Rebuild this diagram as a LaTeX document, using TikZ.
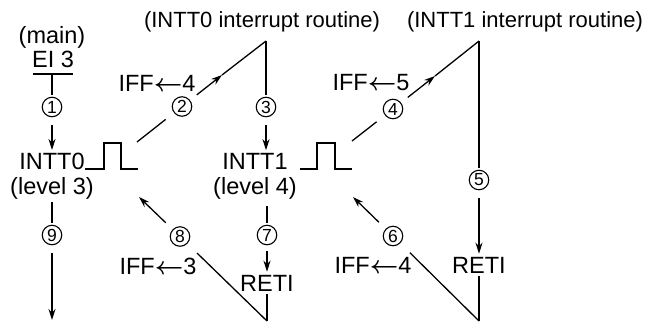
\documentclass[tikz,border=0pt]{standalone}
\usepackage{fontspec}
\setmainfont{Liberation Sans}
\usetikzlibrary{arrows.meta,calc}
\newcommand{\iffset}{{\boldmath$\leftarrow$}}

\begin{document}
\begin{tikzpicture}[
  x=1pt, y=-1pt,
  every node/.style={font=\fontsize{23.5}{26}\selectfont, inner sep=3pt},
  title/.style={font=\fontsize{22}{24}\selectfont},
  num/.style={circle, draw, line width=1.1pt, minimum size=19.5pt, inner sep=0pt, outer sep=2pt, font=\fontsize{17.5}{17.5}\selectfont},
  wire/.style={line width=1.3pt},
  arrow/.style={-{Stealth[length=11pt,width=7pt]}, line width=1.3pt}
]
\useasboundingbox (0,0) rectangle (650,322);

% titles
\node[title] (isr0) at (262,22) {(INTT0 interrupt routine)};
\node[title] (isr1) at (525,22) {(INTT1 interrupt routine)};

% main program
\node (main) at (52,37) {(main)};
\node (ei) at (53,59) {EI 3};
\coordinate (eiL) at (33,74);
\coordinate (eiR) at (73,74);
\coordinate (ei0) at (52,74);

\node (intt0) at (52,161.5) {INTT0};
\node (lv3) at (52,188) {(level 3)};
\node (intt1) at (255,161.5) {INTT1};
\node (lv4) at (255,188) {(level 4)};

\node (iff4a) at (157,83) {IFF\iffset4};
\node (iff5) at (371,83) {IFF\iffset5};
\node (iff3) at (158,266) {IFF\iffset3};
\node (iff4b) at (373,265) {IFF\iffset4};

\node (retiA) at (267,283) {RETI};
\node (retiB) at (479,265) {RETI};

% step numbers
\node[num] (n1) at (52,107) {1};
\node[num] (n2) at (182,106.5) {2};
\node[num] (n3) at (266,107) {3};
\node[num] (n4) at (393,109) {4};
\node[num] (n5) at (479,180) {5};
\node[num] (n6) at (393,236) {6};
\node[num] (n7) at (267,235) {7};
\node[num] (n8) at (180,236.5) {8};
\node[num] (n9) at (52,235) {9};

% corner points
\coordinate (pls0) at (85,169);
\coordinate (pls1) at (300,169);
\coordinate (go0) at (137,142);
\coordinate (tip0) at (222,75);
\coordinate (ap0) at (266,41);
\coordinate (go1) at (352,141);
\coordinate (tip1) at (435,76);
\coordinate (ap1) at (479,41);
\coordinate (bt0) at (267,321);
\coordinate (bt1) at (479,321);
\coordinate (back0) at (139,197);
\coordinate (back1) at (353,197);
\coordinate (end9) at (52,320);

% main -> INTT0
\draw[wire] (eiL) -- (eiR);
\draw[wire] (ei0) -- (n1);
\draw[arrow, shorten <=6pt] (n1) -- (intt0);

% interrupt pulses
\draw[wire] (pls0) -- ++(19,0) -- ++(0,-26) -- ++(17,0) -- ++(0,26) -- ++(17,0);
\draw[wire] (pls1) -- ++(17,0) -- ++(0,-26) -- ++(18,0) -- ++(0,26) -- ++(17,0);

% INTT0 routine
\draw[wire, shorten >=9pt] (go0) -- (n2);
\draw[arrow, shorten <=7pt] (n2) -- (tip0);
\draw[wire] (tip0) -- (ap0);
\draw[wire] (ap0) -- (n3);
\draw[arrow, shorten <=6pt] (n3) -- (n3 |- intt1.north);

% INTT1 routine
\draw[wire, shorten >=9pt] (go1) -- (n4);
\draw[arrow, shorten <=7pt] (n4) -- (tip1);
\draw[wire] (tip1) -- (ap1);
\draw[wire] (ap1) -- (n5);
\draw[arrow, shorten <=6pt] (n5) -- (retiB);
\draw[wire] (retiB) -- (bt1);
\draw[wire, shorten >=12pt] (bt1) -- (n6);
\draw[arrow, shorten <=8pt] (n6) -- (back1);

% back in INTT0 routine
\draw[wire, shorten <=4pt] (n7 |- lv4.south) -- (n7);
\draw[arrow, shorten <=4pt] (n7) -- (n7 |- retiA.north);
\draw[wire] (retiA.south -| bt0) -- (bt0);
\draw[wire, shorten >=12pt] (bt0) -- (n8);
\draw[arrow, shorten <=8pt] (n8) -- (back0);

% back in main
\draw[wire] (lv3) -- (n9);
\draw[arrow, shorten <=6pt] (n9) -- (end9);
\end{tikzpicture}
\end{document}
